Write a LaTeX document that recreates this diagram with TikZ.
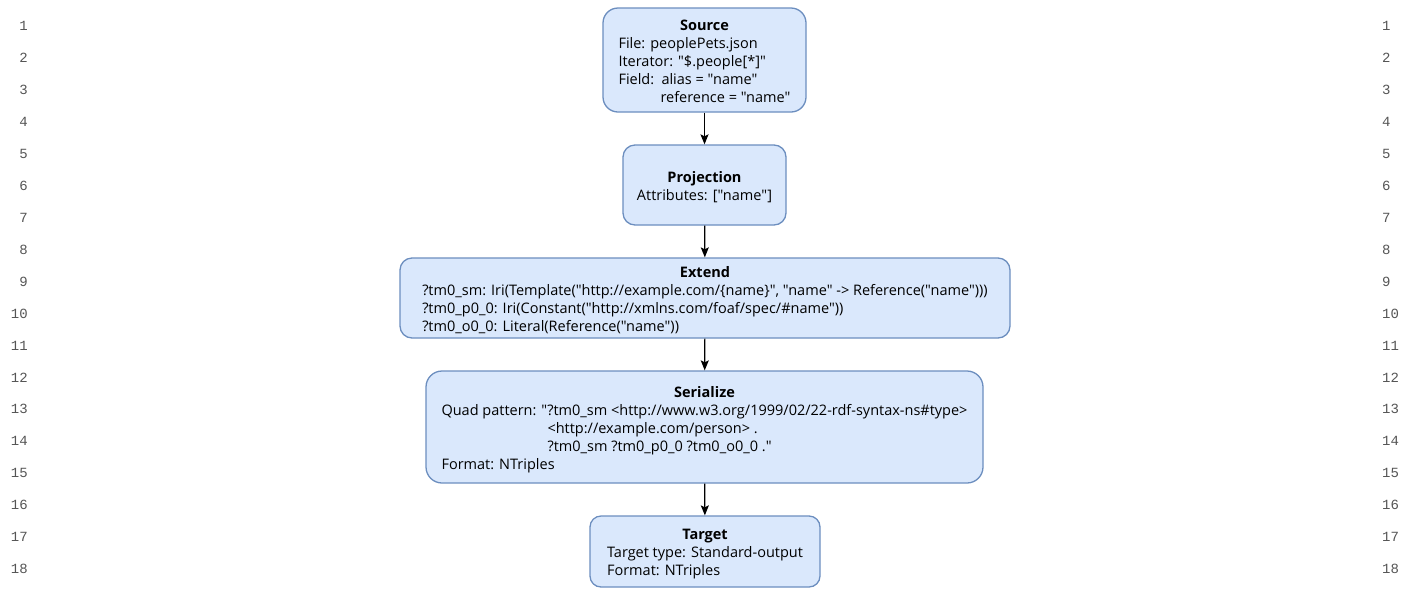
\documentclass[tikz,border=0pt]{standalone}
\usepackage{fontspec}
\setmainfont{Open Sans}[Ligatures=TeXOff]
\newfontfamily\numfont{Liberation Mono}
\usetikzlibrary{arrows.meta}
\definecolor{boxfill}{HTML}{DAE8FC}
\definecolor{boxline}{HTML}{6C8EBF}
\definecolor{numgray}{HTML}{555555}
% a centred block of left-aligned lines, lowered a little inside its box
\newcommand{\blocktext}[1]{\raisebox{-2.5pt}[\height][\depth]{\begin{tabular}{@{}l@{}}#1\end{tabular}}}
\newcommand{\heading}[1]{\multicolumn{1}{@{}c@{}}{\bfseries #1}}
\begin{document}
\begin{tikzpicture}[x=1pt,y=-1pt,
  stage/.style={draw=boxline, fill=boxfill, line width=1.3pt, inner sep=0pt,
    font=\fontsize{14.5}{18}\selectfont, align=center},
  flow/.style={-{Stealth[length=10pt,width=8pt,inset=2pt]}, line width=1.2pt, black},
  lnum/.style={font=\numfont\fontsize{14}{14}\selectfont, text=numgray, inner sep=0pt}
]
\useasboundingbox (0,0) rectangle (1418,590);

% line numbers in both margins
\foreach \i in {1,...,18}{
  \node[lnum, anchor=east] (numL\i) at (28, {26+(\i-1)*31.94}) {\i};
  \node[lnum, anchor=west] (numR\i) at (1382, {26+(\i-1)*31.94}) {\i};
}

% pipeline stages
\node[stage, minimum width=203pt, minimum height=104pt, rounded corners=15pt]
  (source) at (704.5,60) {\blocktext{\heading{Source}\\
    File: peoplePets.json\\
    Iterator: "\$.people[*]"\\
    \makebox[43pt][l]{Field:}alias = "name"\\
    \hspace*{42pt}reference = "name"}};

\node[stage, minimum width=163pt, minimum height=80pt, rounded corners=12pt]
  (projection) at (704.5,185) {\blocktext{\heading{Projection}\\
    Attributes: ["name"]}};

\node[stage, minimum width=610pt, minimum height=80pt, rounded corners=12pt]
  (extend) at (705,298) {\blocktext{\heading{Extend}\\
    ?tm0\_sm: Iri(Template("http://example.com/\{name\}", "name" -> Reference("name")))\\
    ?tm0\_p0\_0: Iri(Constant("http://xmlns.com/foaf/spec/\#name"))\\
    ?tm0\_o0\_0: Literal(Reference("name"))}};

\node[stage, minimum width=557pt, minimum height=112pt, rounded corners=16pt]
  (serialize) at (704.5,427) {\blocktext{\heading{Serialize}\\
    Quad pattern: "?tm0\_sm <http://www.w3.org/1999/02/22-rdf-syntax-ns\#type>\\
    \hspace*{106pt}<http://example.com/person> .\\
    \hspace*{106pt}?tm0\_sm ?tm0\_p0\_0 ?tm0\_o0\_0 ."\\
    Format: NTriples}};

\node[stage, minimum width=230pt, minimum height=71pt, rounded corners=11pt]
  (target) at (705,551.5) {\blocktext{\heading{Target}\\
    Target type: Standard-output\\
    Format: NTriples}};

% connectors
\draw[flow] (source) -- (projection);
\draw[flow] (projection) -- (extend);
\draw[flow] (extend) -- (serialize);
\draw[flow] (serialize) -- (target);
\end{tikzpicture}
\end{document}
